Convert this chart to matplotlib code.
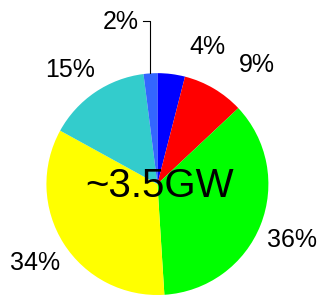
import numpy as np
import matplotlib
matplotlib.use("Agg")
import matplotlib.pyplot as plt

# share of capacity, clockwise from 12 o'clock
labels = ["4%", "9%", "36%", "34%", "15%", "2%"]
shares = [4, 9, 36, 34, 15, 2]
colors = ["#0000ff", "#ff0000", "#00ff00", "#ffff00", "#33cccc", "#3366ff"]
total_label = "~3.5GW"

# label positions (relative to pie radius)
label_pos = [(0.455, 1.234), (0.896, 1.072), (1.212, -0.505),
             (-1.104, -0.712), (-0.788, 1.027), (-0.33, 1.46)]

plt.rcParams["font.family"] = ["Liberation Sans", "DejaVu Sans"]

fig = plt.figure(figsize=(3.18, 2.97), dpi=100)
ax = fig.add_axes([0.146, 0.0067, 0.698, 0.747])

wedges, _ = ax.pie(shares, colors=colors, startangle=90, counterclock=False,
                   radius=1, wedgeprops=dict(linewidth=0))
ax.set_xlim(-1, 1)
ax.set_ylim(-1, 1)
ax.set_aspect("auto")
ax.axis("off")

for lab, (x, y) in zip(labels, label_pos):
    ax.text(x, y, lab, ha="center", va="center", fontsize=18, clip_on=False)

# leader line for the small slice
w = wedges[-1]
mid = np.deg2rad((w.theta1 + w.theta2) / 2)
lx = np.cos(mid)
ax.plot([lx, lx, -0.13], [np.sin(mid), 1.47, 1.47],
        color="black", lw=0.8, clip_on=False)

ax.text(0.02, -0.02, total_label, ha="center", va="center", fontsize=29)

fig.savefig("out.png", dpi=100)
